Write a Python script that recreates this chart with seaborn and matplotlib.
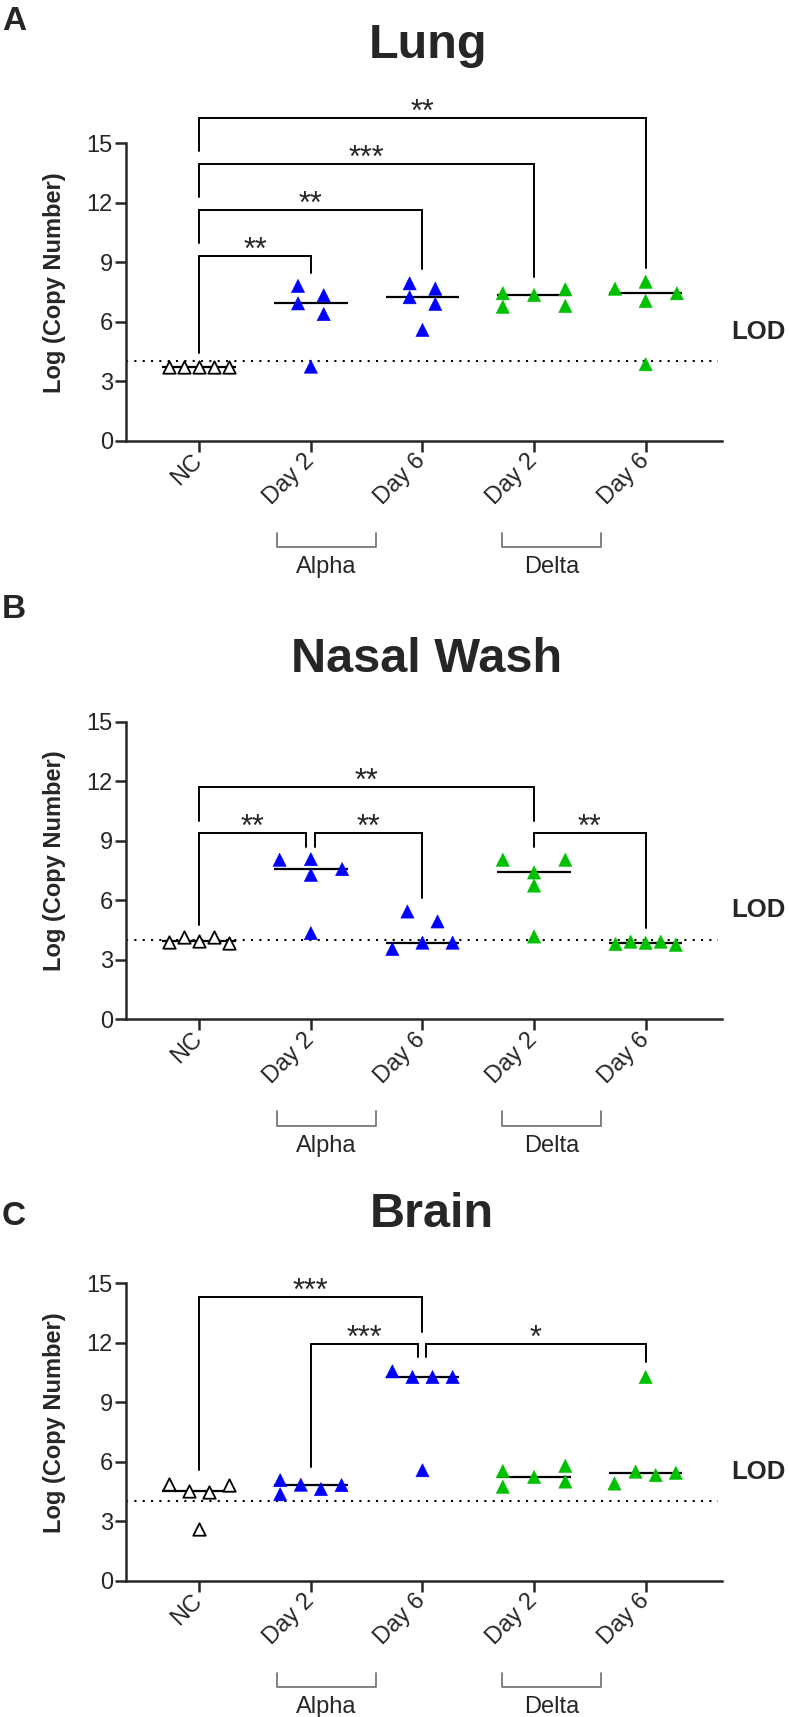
import matplotlib
matplotlib.use('Agg')
import matplotlib.pyplot as plt
import matplotlib.transforms as mtransforms
import pandas as pd
import seaborn as sns

GROUPS = ['NC', 'Alpha Day 2', 'Alpha Day 6', 'Delta Day 2', 'Delta Day 6']
VARIANTS = ['NC', 'Alpha', 'Alpha', 'Delta', 'Delta']
TICK_LABELS = ['NC', 'Day 2', 'Day 6', 'Day 2', 'Day 6']
LOD = 4.0

# log copy number, 5 animals per group
LUNG = [
    [3.72, 3.72, 3.72, 3.72, 3.72],
    [7.81, 6.93, 7.34, 6.39, 3.74],
    [7.94, 7.24, 7.67, 6.90, 5.59],
    [7.44, 6.76, 7.35, 7.64, 6.80],
    [7.67, 8.02, 7.05, 7.44, 3.86],
]
NASAL = [
    [3.91, 4.15, 3.96, 4.15, 3.84],
    [8.05, 8.08, 7.29, 7.58, 4.35],
    [3.55, 5.44, 3.87, 4.94, 3.87],
    [8.05, 7.41, 6.75, 4.18, 8.05],
    [3.80, 3.92, 3.86, 3.92, 3.76],
]
BRAIN = [
    [4.87, 4.54, 4.45, 4.84, 2.63],
    [5.07, 4.36, 4.84, 4.62, 4.82],
    [10.56, 10.27, 10.27, 10.27, 5.57],
    [5.53, 4.74, 5.23, 5.79, 5.00],
    [4.90, 5.50, 5.32, 5.44, 10.27],
]

# column-scatter slot of each point inside its column
LUNG_SLOTS = [
    [-0.27, -0.135, 0, 0.135, 0.27],
    [-0.115, -0.115, 0.115, 0.115, 0],
    [-0.115, -0.115, 0.115, 0.115, 0],
    [-0.28, -0.28, 0, 0.28, 0.28],
    [-0.275, 0, 0, 0.28, 0],
]
NASAL_SLOTS = [
    [-0.27, -0.135, 0, 0.135, 0.27],
    [-0.28, 0, 0, 0.28, 0],
    [-0.27, -0.135, 0, 0.135, 0.27],
    [-0.28, 0, 0, 0, 0.28],
    [-0.27, -0.135, 0, 0.135, 0.27],
]
BRAIN_SLOTS = [
    [-0.27, -0.09, 0.09, 0.27, 0],
    [-0.275, -0.275, -0.09, 0.09, 0.275],
    [-0.27, -0.09, 0.09, 0.27, 0],
    [-0.28, -0.28, 0, 0.28, 0.28],
    [-0.28, -0.09, 0.09, 0.27, 0],
]

# (group 1, group 2, stars, bar level, left leg end, right leg end, left nudge, right nudge)
LUNG_STATS = [
    (0, 1, '**', 9.32, 4.44, 8.48, 0, 0),
    (0, 2, '**', 11.64, 9.96, 8.65, 0, 0),
    (0, 3, '***', 13.96, 12.31, 8.27, 0, 0),
    (0, 4, '**', 16.26, 14.6, 8.70, 0, 0),
]
NASAL_STATS = [
    (0, 1, '**', 9.40, 4.77, 8.69, 0, -0.04),
    (1, 2, '**', 9.40, 8.69, 6.12, 0.04, 0),
    (0, 3, '**', 11.72, 10.02, 10.02, 0, 0),
    (3, 4, '**', 9.40, 8.69, 4.60, 0, 0),
]
BRAIN_STATS = [
    (0, 2, '***', 14.29, 5.58, 12.56, 0, 0),
    (1, 2, '***', 11.94, 5.75, 11.30, 0, -0.043),
    (2, 4, '*', 11.94, 11.30, 11.05, 0.034, 0),
]

PALETTE = {'Alpha': '#0000FF', 'Delta': '#00C000'}

W, H = 789, 1717
FONT = ['Liberation Sans', 'DejaVu Sans']


def fig_text(fig, x_px, y_px, s, **kw):
    fig.text(x_px / W, 1 - y_px / H, s, **kw)


def draw_panel(ax, values, slots, stats):
    rows = []
    for code, (g, var, vals, sl) in enumerate(zip(GROUPS, VARIANTS, values, slots)):
        for v, s in zip(vals, sl):
            rows.append(dict(group=g, variant=var, code=code, value=v, xpos=code + s))
    df = pd.DataFrame(rows)

    # median lines
    med = df.groupby('code')['value'].median()
    ax.hlines(med.values, med.index - 0.33, med.index + 0.33, color='black', lw=1.6, zorder=2)

    nc = df[df.variant == 'NC']
    sns.scatterplot(data=nc, x='xpos', y='value', marker='^', s=80, color='white',
                    edgecolor='black', linewidth=1.3, ax=ax, zorder=3, legend=False)
    inf = df[df.variant != 'NC']
    sns.scatterplot(data=inf, x='xpos', y='value', hue='variant', palette=PALETTE,
                    marker='^', s=90, edgecolor='face', linewidth=0.4, ax=ax, zorder=3, legend=False)

    # LOD
    ax.axhline(LOD, xmin=0, xmax=0.993, color='black', lw=1.5, ls=(0, (1, 3)), zorder=1)
    ax.text(4.77, 5.5, 'LOD', fontsize=18.5, fontweight='bold', ha='left', va='center', clip_on=False)

    # significance brackets
    for g1, g2, label, h, lb, rb, d1, d2 in stats:
        x1, x2 = g1 + d1, g2 + d2
        ax.plot([x1, x1, x2, x2], [lb, h, h, rb], color='black', lw=1.4, clip_on=False,
                solid_joinstyle='miter')
        ax.text((x1 + x2) / 2, h - 0.15, label, ha='center', va='baseline', fontsize=22, clip_on=False)

    ax.set_xlim(-0.661, 4.684)
    ax.set_ylim(0, 17.5)
    ax.set_yticks([0, 3, 6, 9, 12, 15])
    ax.set_xticks(range(5))
    ax.set_xticklabels(TICK_LABELS, rotation=45, ha='right', va='center', rotation_mode='anchor')
    ax.tick_params(axis='both', length=8, width=1.8, labelsize=17, direction='out')
    ax.tick_params(axis='x', pad=4)
    ax.tick_params(axis='y', pad=1)
    sns.despine(ax=ax)
    ax.spines['left'].set_bounds(0, 15)
    for sp in ('left', 'bottom'):
        ax.spines[sp].set_linewidth(1.8)
    ax.set_xlabel('')
    ax.set_ylabel('Log (Copy Number)', fontsize=17, fontweight='bold')
    ax.yaxis.set_label_coords(-0.1, 0.456)

    # variant brackets under the tick labels
    trans = mtransforms.blended_transform_factory(ax.transData, ax.transAxes)
    for x1, x2, name in [(0.70, 1.58, 'Alpha'), (2.71, 3.60, 'Delta')]:
        ax.plot([x1, x1, x2, x2], [-0.265, -0.307, -0.307, -0.265], color='#777777', lw=1.3,
                transform=trans, clip_on=False)
        ax.text((x1 + x2) / 2, -0.3646, name, fontsize=17, ha='center', va='center',
                transform=trans, clip_on=False)


def main():
    sns.set_style('ticks')
    plt.rcParams['font.family'] = FONT

    fig = plt.figure(figsize=(W / 100, H / 100), dpi=100)

    panels = [
        ('A', 'Lung', LUNG, LUNG_SLOTS, LUNG_STATS, 440.8, 58, 30, 428),
        ('B', 'Nasal Wash', NASAL, NASAL_SLOTS, NASAL_STATS, 1019.4, 671.7, 618, 427),
        ('C', 'Brain', BRAIN, BRAIN_SLOTS, BRAIN_STATS, 1580.7, 1227, 1225, 432),
    ]
    left, right = 125.5, 722
    height_px = 17.5 * 19.83
    for letter, title, values, slots, stats, y0, title_y, letter_y, title_x in panels:
        ax = fig.add_axes([left / W, 1 - y0 / H, (right - left) / W, height_px / H])
        draw_panel(ax, values, slots, stats)
        fig_text(fig, title_x, title_y, title, fontsize=35, fontweight='bold', ha='center', va='baseline')
        fig_text(fig, 2, letter_y, letter, fontsize=24, fontweight='bold', ha='left', va='baseline')

    fig.savefig('out.png', dpi=100)


if __name__ == '__main__':
    main()
